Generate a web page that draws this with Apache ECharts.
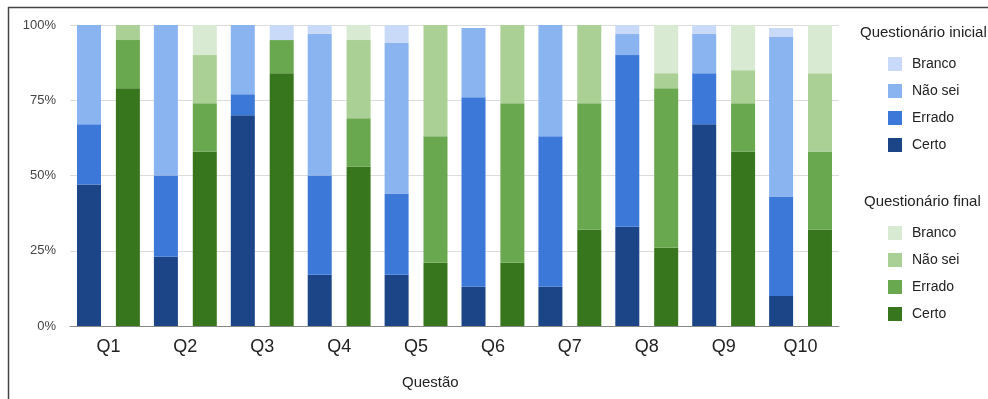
<!DOCTYPE html>
<html>
<head>
<meta charset="utf-8">
<script src="https://cdn.jsdelivr.net/npm/echarts@6/dist/echarts.min.js"></script>
<style>
  html, body { margin: 0; padding: 0; background: #fff; }
  #chart { width: 988px; height: 399px; }
</style>
</head>
<body>
<div id="chart"></div>
<script>
// Question labels
const categories = ['Q1', 'Q2', 'Q3', 'Q4', 'Q5', 'Q6', 'Q7', 'Q8', 'Q9', 'Q10'];
const yTicks = [0, 25, 50, 75, 100];

// Initial questionnaire (% of answers)
const certoIni  = [47, 23, 70, 17, 17, 13, 13, 33, 67, 10];
const erradoIni = [20, 27,  7, 33, 27, 63, 50, 57, 17, 33];
const naoSeiIni = [33, 50, 23, 47, 50, 23, 37,  7, 13, 53];
const brancoIni = [ 0,  0,  0,  3,  6,  0,  0,  3,  3,  3];

// Final questionnaire (% of answers)
const certoFin  = [79, 58, 84, 53, 21, 21, 32, 26, 58, 32];
const erradoFin = [16, 16, 11, 16, 42, 53, 42, 53, 16, 26];
const naoSeiFin = [ 5, 16,  0, 26, 37, 26, 26,  5, 11, 26];
const brancoFin = [ 0, 10,  5,  5,  0,  0,  0, 16, 15, 16];

const blue  = { certo: '#1c4587', errado: '#3c78d8', naoSei: '#8ab4f0', branco: '#c9daf8' };
const green = { certo: '#38761d', errado: '#6aa84f', naoSei: '#abd095', branco: '#d9ead3' };

const FONT = 'Liberation Sans, Arial, sans-serif';

function bar(id, label, stack, color, values) {
  return {
    id: id,
    name: id,
    type: 'bar',
    stack: stack,
    barWidth: 24,
    barGap: '62%',
    itemStyle: { color: color },
    emphasis: { disabled: true },
    data: values
  };
}

// Q3 final "Branco" segment is shown in the pale blue tone
const brancoFinData = brancoFin.map((v, i) =>
  i === 2 ? { value: v, itemStyle: { color: blue.branco } } : v);

const series = [
  bar('ini_certo',  'Certo',   'ini', blue.certo,   certoIni),
  bar('ini_errado', 'Errado',  'ini', blue.errado,  erradoIni),
  bar('ini_naosei', 'Não sei', 'ini', blue.naoSei,  naoSeiIni),
  bar('ini_branco', 'Branco',  'ini', blue.branco,  brancoIni),
  bar('fin_certo',  'Certo',   'fin', green.certo,  certoFin),
  bar('fin_errado', 'Errado',  'fin', green.errado, erradoFin),
  bar('fin_naosei', 'Não sei', 'fin', green.naoSei, naoSeiFin),
  bar('fin_branco', 'Branco',  'fin', green.branco, brancoFinData)
];

const labelOf = {
  ini_certo: 'Certo', ini_errado: 'Errado', ini_naosei: 'Não sei', ini_branco: 'Branco',
  fin_certo: 'Certo', fin_errado: 'Errado', fin_naosei: 'Não sei', fin_branco: 'Branco'
};

function legend(top, ids) {
  return {
    orient: 'vertical',
    left: 888,
    top: top,
    padding: 0,
    itemWidth: 14,
    itemHeight: 14,
    itemGap: 13,
    icon: 'rect',
    selectedMode: false,
    data: ids,
    formatter: n => labelOf[n],
    textStyle: { fontFamily: FONT, fontSize: 14, color: '#222', padding: [0, 0, 0, 5] }
  };
}

const chart = echarts.init(document.getElementById('chart'), null, { renderer: 'canvas' });

chart.setOption({
  animation: false,
  backgroundColor: '#fff',
  grid: { left: 70, top: 25, width: 769, height: 301 },
  xAxis: {
    type: 'category',
    data: categories,
    axisTick: { show: false },
    axisLine: { show: true, lineStyle: { color: '#888', width: 1 } },
    axisLabel: { fontFamily: FONT, fontSize: 18, color: '#222', margin: 12 }
  },
  yAxis: {
    type: 'value',
    min: yTicks[0],
    max: yTicks[yTicks.length - 1],
    interval: yTicks[1] - yTicks[0],
    axisLine: { show: false },
    axisTick: { show: false },
    splitLine: { lineStyle: { color: '#dcdcdc', width: 1 } },
    axisLabel: { fontFamily: FONT, fontSize: 13, color: '#444', margin: 14, formatter: '{value}%' }
  },
  legend: [
    legend(57, ['ini_branco', 'ini_naosei', 'ini_errado', 'ini_certo']),
    legend(226, ['fin_branco', 'fin_naosei', 'fin_errado', 'fin_certo'])
  ],
  graphic: [
    { type: 'line', shape: { x1: 8, y1: 7.5, x2: 988, y2: 7.5 }, style: { stroke: '#444', lineWidth: 1.5 } },
    { type: 'line', shape: { x1: 8.5, y1: 7, x2: 8.5, y2: 399 }, style: { stroke: '#444', lineWidth: 1.5 } },
    { type: 'text', left: 860, top: 25, style: { text: 'Questionário inicial', font: '15px ' + FONT, fill: '#222' } },
    { type: 'text', left: 864, top: 194, style: { text: 'Questionário final', font: '15px ' + FONT, fill: '#222' } },
    { type: 'text', left: 402, top: 375, style: { text: 'Questão', font: '15px ' + FONT, fill: '#222' } }
  ],
  series: series
});
</script>
</body>
</html>
